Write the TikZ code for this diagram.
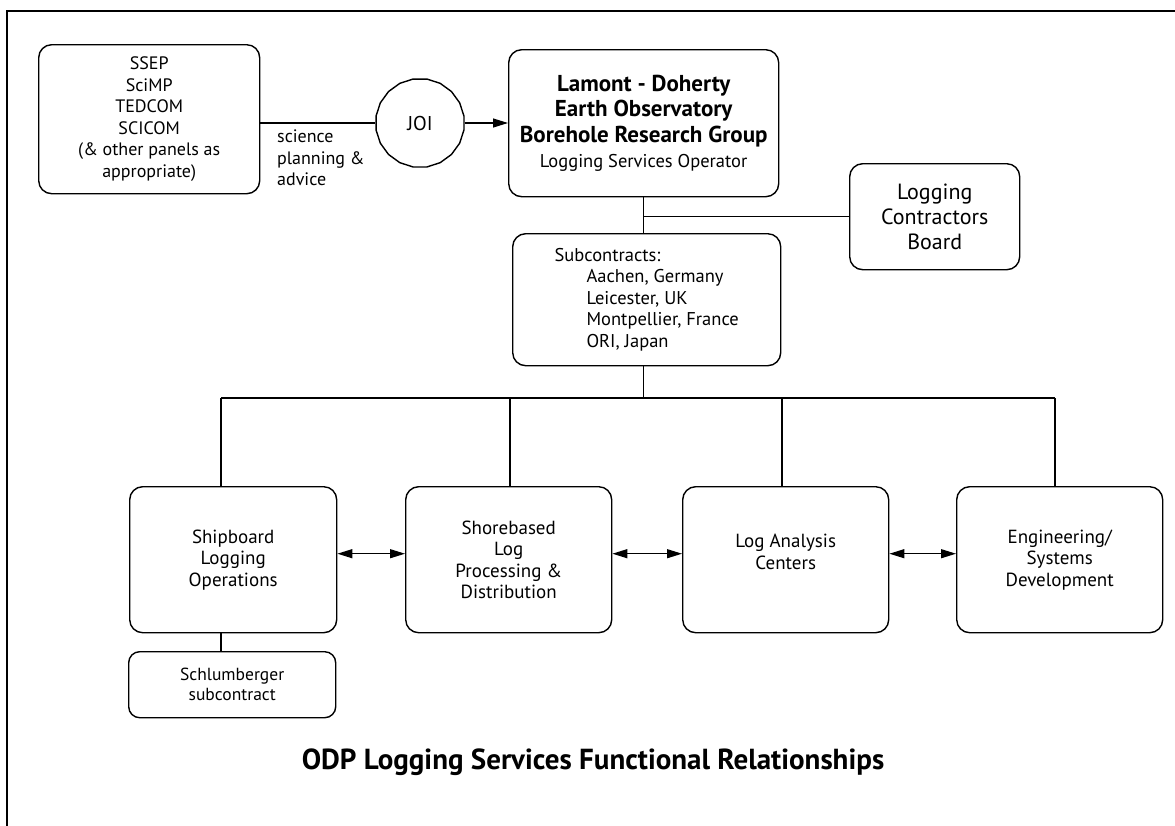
\documentclass[tikz,border=0pt]{standalone}
\usepackage{fontspec}
\setmainfont{PT Sans}
\usetikzlibrary{arrows.meta,shapes.geometric}
\begin{document}
\begin{tikzpicture}[x=1pt,y=-1pt,
  box/.style={draw, line width=1.4pt, rounded corners=13pt, anchor=north west, inner sep=0pt, align=center},
  f17/.style={font=\fontsize{18}{21.5}\selectfont},
  f18/.style={font=\fontsize{19}{21.5}\selectfont},
  f20/.style={font=\fontsize{22}{25}\selectfont},
  conn/.style={line width=1.2pt},
  arr/.style={conn, -{Triangle[length=15pt,width=9pt]}},
  darr/.style={conn, {Triangle[length=15pt,width=9pt]}-{Triangle[length=15pt,width=9pt]}},
]
\useasboundingbox (0,0) rectangle (1175,825);
\draw[line width=1.6pt] (7,845) -- (7,11) -- (1195,11);

% top row
\node[box, f17, minimum width=221pt, minimum height=149pt] (ssep) at (38,44)
  {SSEP\\SciMP\\TEDCOM\\SCICOM\\(\& other panels as\\appropriate)};
\node[draw, line width=1.4pt, regular polygon, regular polygon sides=20,
  minimum size=89pt, inner sep=0pt, font=\fontsize{20}{24}\selectfont] (joi) at (420,123) {JOI};
\node[box, font=\fontsize{23}{25.5}\selectfont, minimum width=270pt, minimum height=147pt] (lamont) at (508,49)
  {\bfseries Lamont - Doherty\\\bfseries Earth Observatory\\\bfseries Borehole Research Group\\{\fontsize{18.5}{21}\selectfont Logging Services Operator}};
\node[box, f20, minimum width=170pt, minimum height=106pt] (lcb) at (849,163)
  {Logging\\Contractors\\Board};
\node[box, font=\fontsize{18.5}{21.5}\selectfont, minimum width=268pt, minimum height=132pt] (sub) at (512,233)
  {\begin{tabular}{@{}l@{}}Subcontracts:\\\hspace*{32pt}Aachen, Germany\\\hspace*{32pt}Leicester, UK\\\hspace*{32pt}Montpellier, France\\\hspace*{32pt}ORI, Japan\end{tabular}};

\node[anchor=north west, inner sep=0pt, align=left, f17] (spa) at (277,130)
  {science\\planning \&\\advice};

% bottom row
\node[box, f18, minimum width=207pt, minimum height=146pt] (ship) at (129,486)
  {Shipboard\\Logging\\Operations};
\node[box, f18, minimum width=206pt, minimum height=146pt] (shore) at (405,486)
  {Shorebased\\Log\\Processing \&\\Distribution};
\node[box, minimum width=206pt, minimum height=146pt] (lac) at (682,486) {};
\node[f18, align=center] (lactext) at ([yshift=8pt]lac.center) {Log Analysis\\Centers};
\node[box, f18, minimum width=206pt, minimum height=146pt] (eng) at (956,486)
  {Engineering/\\Systems\\Development};
\node[box, font=\fontsize{17.5}{20}\selectfont, minimum width=207pt, minimum height=66pt, rounded corners=11pt] (schl) at (128,651)
  {Schlumberger\\subcontract};

\node[font=\bfseries\fontsize{29}{33}\selectfont] (title) at (593,762)
  {ODP Logging Services Functional Relationships};

% connectors
\draw[conn] (ssep.east |- joi.west) -- (joi.west);
\draw[arr] (joi.east) -- (joi.east -| lamont.west);
\draw[conn] (lamont.south) -- (lamont.south |- sub.north);
\coordinate (jn) at (lamont.south |- lcb.west);
\draw[conn] (jn) -- (lcb.west);

\coordinate (bus1) at (221,398);
\coordinate (bus2) at (510,398);
\coordinate (bus3) at (782,398);
\coordinate (bus4) at (1055,398);
\draw[conn] (sub.south -| lamont.south) -- (bus1 -| lamont.south);
\draw[conn] (bus1) -- (bus4);
\draw[conn] (bus1) -- (bus1 |- ship.north);
\draw[conn] (bus2) -- (bus2 |- shore.north);
\draw[conn] (bus3) -- (bus3 |- lac.north);
\draw[conn] (bus4) -- (bus4 |- eng.north);
\draw[conn] (bus1 |- ship.south) -- (bus1 |- schl.north);

\draw[darr] ([yshift=6pt]ship.east) -- ([yshift=6pt]shore.west);
\draw[darr] ([yshift=6pt]shore.east) -- ([yshift=6pt]lac.west);
\draw[darr] ([yshift=6pt]lac.east) -- ([yshift=6pt]eng.west);
\end{tikzpicture}
\end{document}
